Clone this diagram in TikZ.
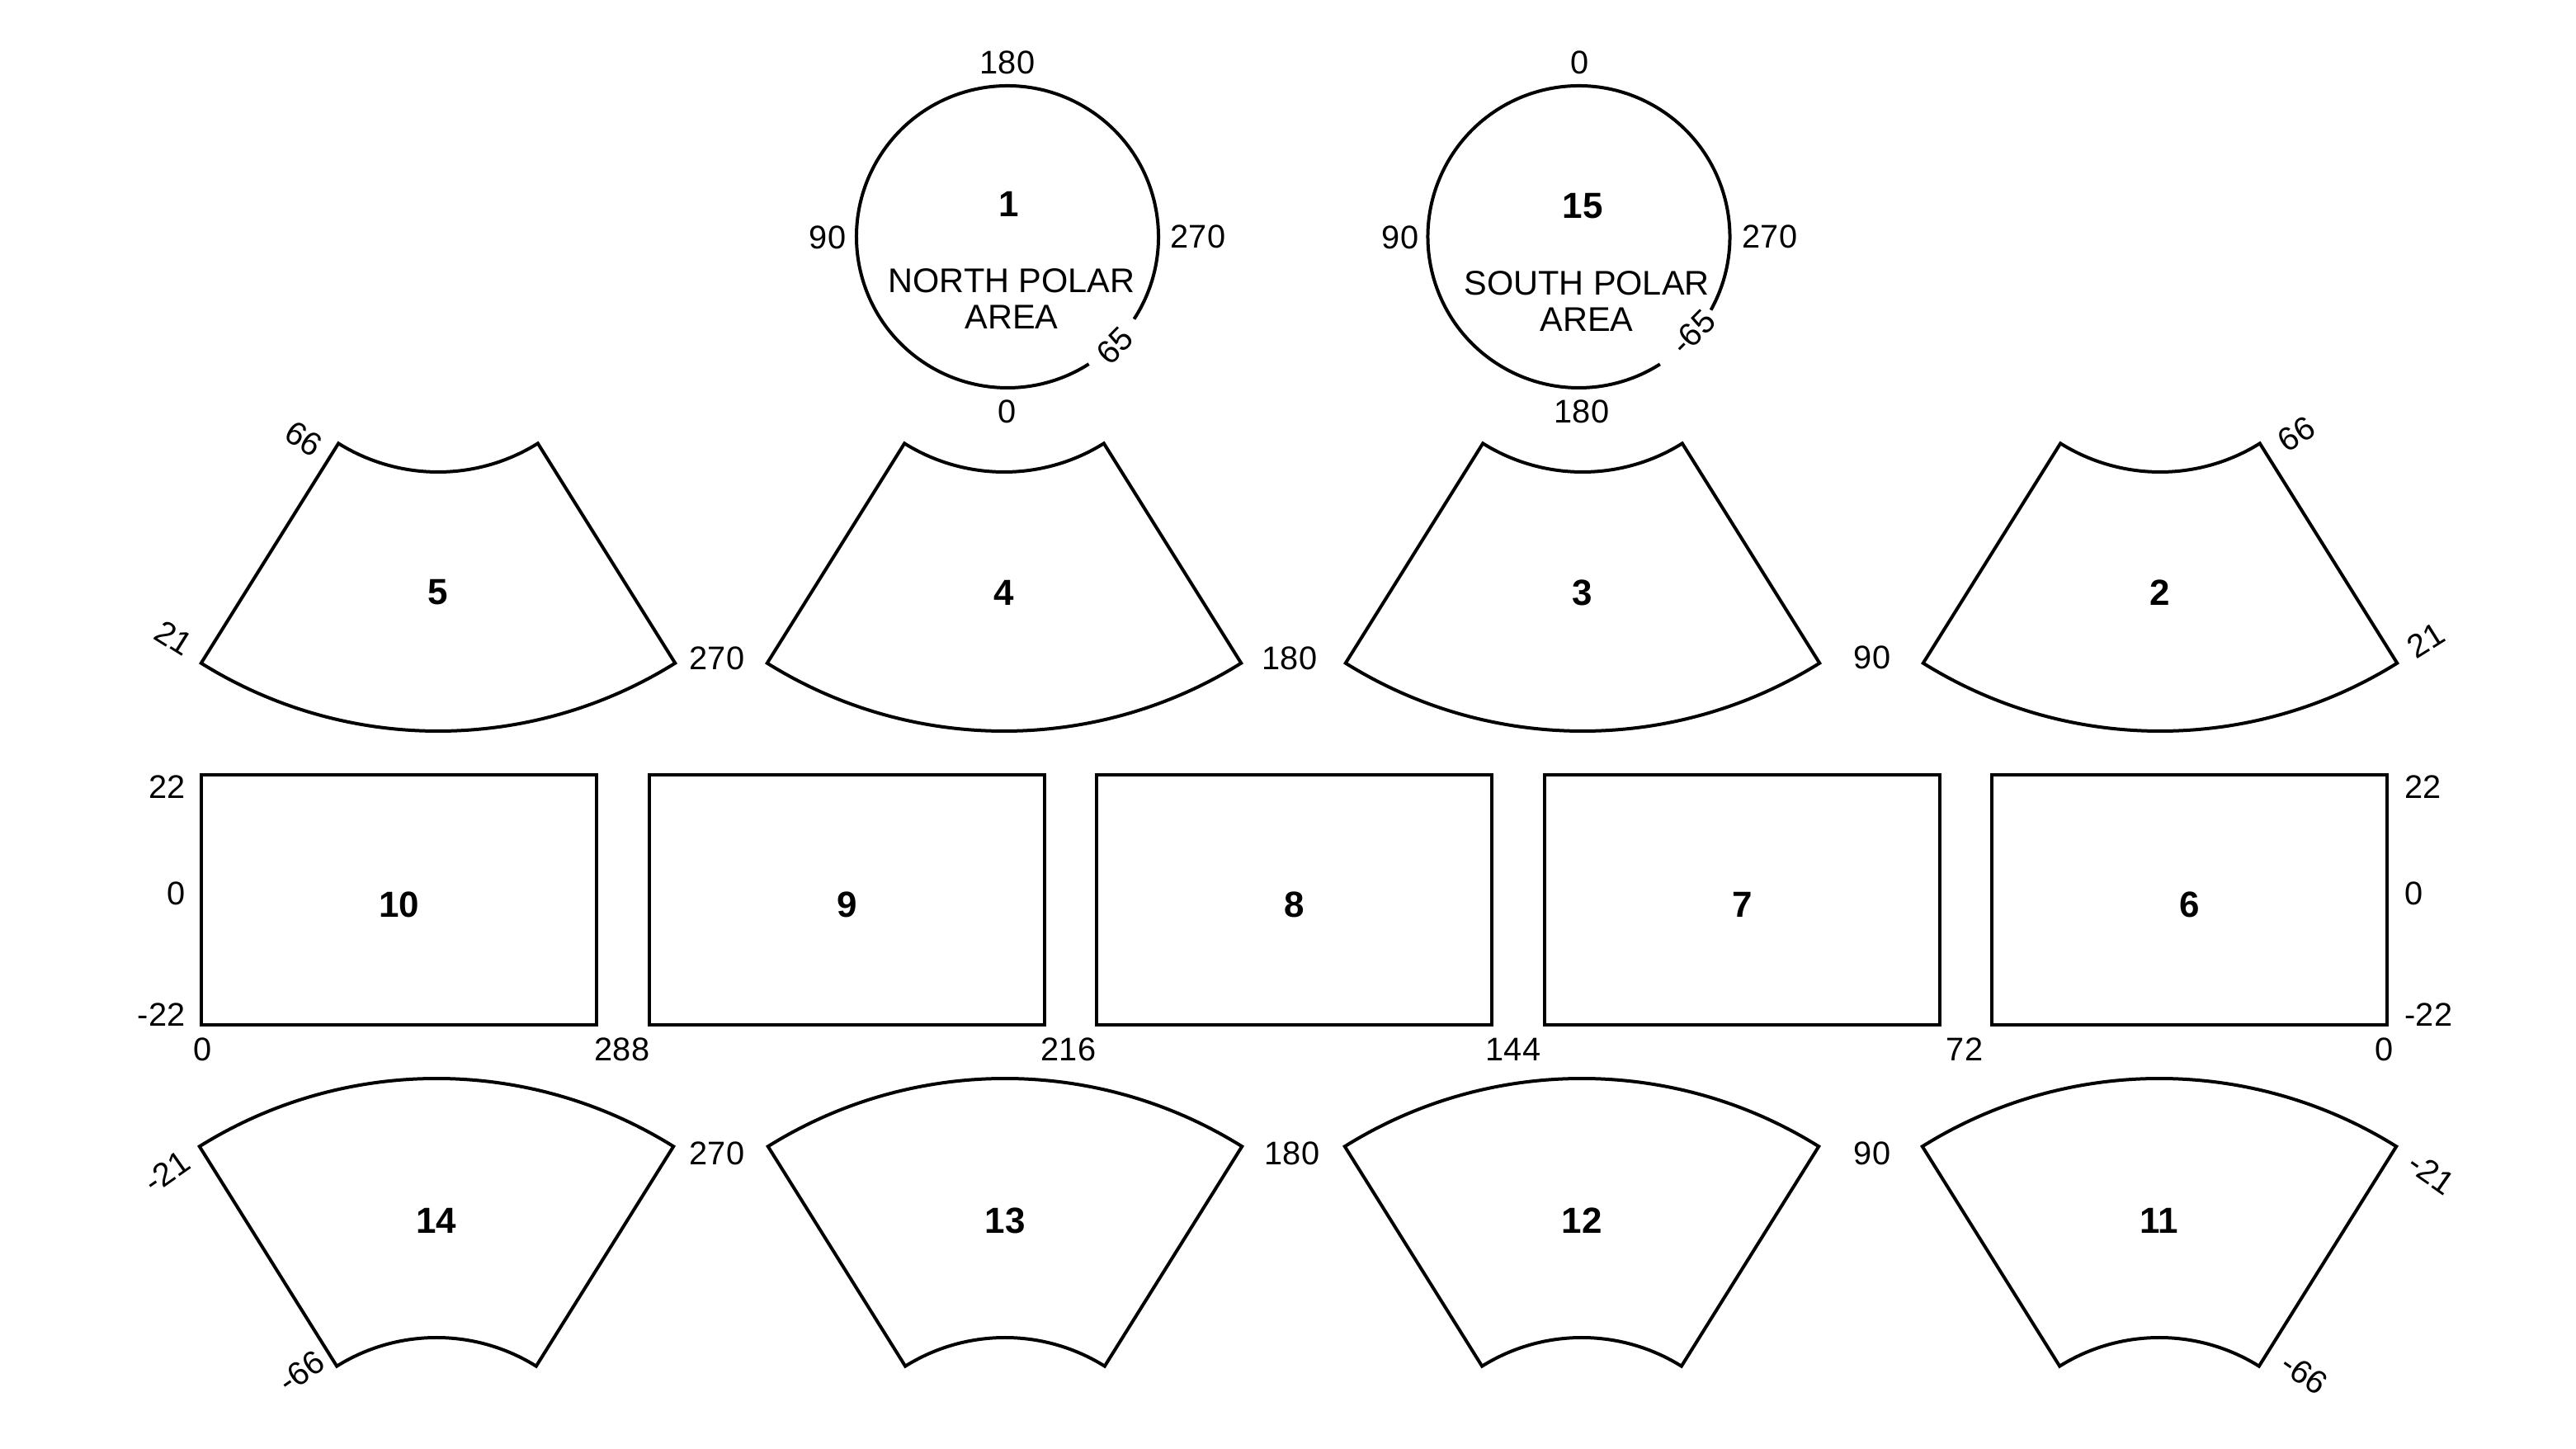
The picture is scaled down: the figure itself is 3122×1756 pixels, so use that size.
\documentclass[tikz,border=0pt]{standalone}
\usepackage{fontspec}
\setmainfont{Liberation Sans}
\usepackage{tikz}

\tikzset{
  zoneline/.style={draw, line width=0.4mm},
  zonenum/.style={font=\bfseries\fontsize{12.5}{14}\selectfont, inner sep=0pt},
  deglabel/.style={font=\fontsize{11.3}{13}\selectfont, inner sep=0pt},
  areatext/.style={font=\fontsize{11.8}{12.3}\selectfont, align=center, inner sep=0pt}
}

\begin{document}
\begin{tikzpicture}[x=0.1mm, y=0.1mm]
  \useasboundingbox (0,0) rectangle (3122,1756);

  % polar caps
  \draw[zoneline] (1221,1469) ++(-33:183) arc[start angle=-33, end angle=302.6, radius=183];
  \draw[zoneline] (1913.5,1469) ++(-29:183) arc[start angle=-29, end angle=302.5, radius=183];

  \node[zonenum] (zone1) at (1223,1509) {1};
  \node[areatext] (north) at (1226,1394) {NORTH POLAR\\AREA};
  \node[deglabel] (n180) at (1221,1680) {180};
  \node[deglabel] (n0) at (1221,1257) {0};
  \node[deglabel] (n90) at (1003,1468) {90};
  \node[deglabel] (n270) at (1452,1469) {270};
  \node[deglabel, rotate=45] (n65) at (1351,1337) {65};

  \node[zonenum] (zone15) at (1918,1506) {15};
  \node[areatext] (south) at (1923,1391) {SOUTH POLAR\\AREA};
  \node[deglabel] (s0) at (1915,1680) {0};
  \node[deglabel] (s180) at (1917,1257) {180};
  \node[deglabel] (s90) at (1697,1468) {90};
  \node[deglabel] (s270) at (2145,1469) {270};
  \node[deglabel, rotate=45] (s65) at (2052,1353) {-65};

  % northern fans
  \foreach \cx/\n in {531/5, 1217/4, 1918/3, 2618/2} {
    \begin{scope}[shift={(\cx,1412)}]
      \draw[zoneline] (238:228) arc[start angle=238, end angle=302, radius=228]
        -- (302:542) arc[start angle=302, end angle=238, radius=542] -- cycle;
    \end{scope}
    \node[zonenum] (zone\n) at (\cx,1038) {\n};
  }
  \node[deglabel, rotate=-32] (nw66) at (368,1224) {66};
  \node[deglabel, rotate=-32] (nw21) at (211,983) {21};
  \node[deglabel] (nl270) at (869,958) {270};
  \node[deglabel] (nl180) at (1563,958) {180};
  \node[deglabel] (nl90) at (2269,959) {90};
  \node[deglabel, rotate=32] (ne66) at (2783,1230) {66};
  \node[deglabel, rotate=32] (ne21) at (2940,980) {21};

  % equatorial strips
  \foreach \i/\n in {0/10, 1/9, 2/8, 3/7, 4/6} {
    \draw[zoneline] ({244+542.5*\i},514) rectangle ({723+542.5*\i},817);
    \node[zonenum] (zone\n) at ({484+542.5*\i},660) {\n};
  }
  \node[deglabel, anchor=east] (w22) at (225,802) {22};
  \node[deglabel, anchor=east] (w0) at (225,673) {0};
  \node[deglabel, anchor=east] (wm22) at (225,526) {-22};
  \node[deglabel, anchor=west] (e22) at (2914,802) {22};
  \node[deglabel, anchor=west] (e0) at (2914,673) {0};
  \node[deglabel, anchor=west] (em22) at (2914,526) {-22};
  \foreach \x/\t in {246/0, 754/288, 1295/216, 1834/144, 2381/72, 2890/0}
    \node[deglabel] (lon\t) at (\x,484) {\t};

  % southern fans
  \foreach \cx/\n in {529/14, 1218/13, 1917/12, 2617/11} {
    \begin{scope}[shift={(\cx,-93)}]
      \draw[zoneline] (58:228) arc[start angle=58, end angle=122, radius=228]
        -- (122:542) arc[start angle=122, end angle=58, radius=542] -- cycle;
    \end{scope}
    \node[zonenum] (zone\n) at (\cx,277) {\n};
  }
  \node[deglabel, rotate=35] (sw21) at (202,336) {-21};
  \node[deglabel, rotate=35] (sw66) at (365,94) {-66};
  \node[deglabel] (sl270) at (869,358) {270};
  \node[deglabel] (sl180) at (1566,358) {180};
  \node[deglabel] (sl90) at (2269,358) {90};
  \node[deglabel, rotate=-35] (se21) at (2947,334) {-21};
  \node[deglabel, rotate=-35] (se66) at (2793,91) {-66};
\end{tikzpicture}
\end{document}
